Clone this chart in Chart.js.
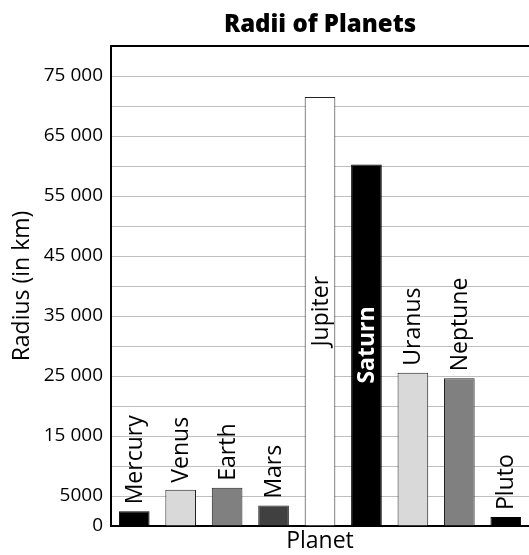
<!DOCTYPE html>
<html>
<head>
<meta charset="utf-8">
<script src="https://cdn.jsdelivr.net/npm/chart.js@4.4.1/dist/chart.umd.min.js"></script>
<style>
body { margin: 0; background: #fff; }
#wrap { width: 529px; height: 555px; }
</style>
</head>
<body>
<div id="wrap"><canvas id="chartCanvas" width="529" height="555"></canvas></div>
<script>
const planets = ["Mercury", "Venus", "Earth", "Mars", "Jupiter", "Saturn", "Uranus", "Neptune", "Pluto"];
const radii = [2440, 6052, 6378, 3397, 71492, 60268, 25559, 24622, 1500];
const yTickValues = [0, 5000, 15000, 25000, 35000, 45000, 55000, 65000, 75000];
const yTickLabels = ["0", "5000", "15 000", "25 000", "35 000", "45 000", "55 000", "65 000", "75 000"];

const barColors = ["#000000", "#d9d9d9", "#808080", "#404040", "#ffffff", "#000000", "#d9d9d9", "#808080", "#000000"];
const FONT = "'Open Sans', 'Noto Sans', sans-serif";

// vertical labels above (or inside tall) bars
const barLabels = {
    id: "barLabels",
    afterDatasetsDraw(chart) {
        const ctx = chart.ctx;
        const meta = chart.getDatasetMeta(0);
        const area = chart.chartArea;
        meta.data.forEach((bar, i) => {
            const inside = (bar.base - bar.y) > (area.bottom - area.top) * 0.5;
            const dark = barColors[i] === "#000000";
            ctx.save();
            ctx.font = (inside && dark ? "bold " : "") + "23px " + FONT;
            ctx.fillStyle = inside && dark ? "#ffffff" : "#000000";
            ctx.textBaseline = "middle";
            ctx.translate(bar.x, inside ? (bar.y + bar.base) / 2 : bar.y - 7);
            ctx.rotate(-Math.PI / 2);
            ctx.textAlign = inside ? "center" : "left";
            ctx.fillText(planets[i], 0, 1);
            ctx.restore();
        });
    }
};

const chart = new Chart(document.getElementById("chartCanvas").getContext("2d"), {
    type: "bar",
    data: {
        labels: planets,
        datasets: [{
            data: radii,
            backgroundColor: barColors,
            borderColor: barColors.map(c => c === "#000000" ? "#000000" : "#222222"),
            borderWidth: 1,
            categoryPercentage: 1,
            barPercentage: 0.66
        }]
    },
    options: {
        responsive: false,
        animation: false,
        layout: { padding: { left: 0, right: 0, top: 0, bottom: 0 } },
        plugins: {
            legend: { display: false },
            tooltip: { enabled: false },
            title: {
                display: true,
                text: "Radii of Planets",
                fullSize: false,
                color: "#000",
                font: { family: FONT, size: 24, weight: "800", lineHeight: 1 },
                padding: { top: 13, bottom: 9 }
            }
        },
        scales: {
            x: {
                grid: { display: true, color: "transparent", drawTicks: false },
                border: { color: "#000", width: 2 },
                ticks: { display: false },
                title: {
                    display: true,
                    text: "Planet",
                    color: "#000",
                    font: { family: FONT, size: 23, lineHeight: 1 },
                    padding: { top: 2, bottom: 2 }
                },
                afterFit(scale) { scale.height = 29; }
            },
            y: {
                min: 0,
                max: 80000,
                grid: {
                    drawTicks: false,
                    color: c => c.tick && c.tick.value === 80000 ? "#000" : "#bfbfbf",
                    lineWidth: c => c.tick && c.tick.value === 80000 ? 2 : 1
                },
                border: { color: "#000", width: 2 },
                ticks: {
                    stepSize: 5000,
                    autoSkip: false,
                    padding: 8,
                    color: "#000",
                    font: { family: FONT, size: 19 },
                    callback: v => {
                        const i = yTickValues.indexOf(v);
                        return i >= 0 ? yTickLabels[i] : "";
                    }
                },
                title: {
                    display: true,
                    text: "Radius (in km)",
                    color: "#000",
                    font: { family: FONT, size: 23, lineHeight: 1 },
                    padding: { top: 11, bottom: 0 }
                },
                afterFit(scale) { scale.width = 111; }
            }
        }
    },
    plugins: [barLabels]
});
</script>
</body>
</html>
